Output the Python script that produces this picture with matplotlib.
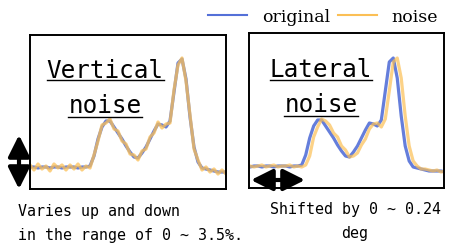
import matplotlib
matplotlib.use("Agg")
import matplotlib.pyplot as plt
from matplotlib.lines import Line2D
from matplotlib.patches import FancyArrowPatch
from matplotlib.transforms import IdentityTransform

# sample position along the profile
x = list(range(0, 208, 4))

# original profile
original = [22, 22, 21, 22, 22, 21, 22, 22, 21, 22, 22, 22, 21, 22, 22, 23, 33, 50, 62, 68,
            68, 62, 56, 50, 43, 37, 32, 31, 36, 42, 50, 58, 65, 64, 62, 68, 97, 126, 130, 110,
            72, 42, 27, 21, 20, 19, 18, 17, 17, 17, 17, 16]

# vertical noise (values jitter up and down)
noise_vert = [24, 19, 25, 20, 23, 18, 25, 21, 24, 19, 24, 20, 25, 19, 23, 21, 34, 48, 64, 66,
              70, 60, 58, 48, 45, 35, 34, 29, 38, 40, 52, 56, 67, 61, 65, 66, 99, 124, 131, 108,
              74, 40, 29, 19, 22, 17, 20, 15, 19, 15, 18, 14]

# lateral noise (profile shifted sideways)
noise_lat = [22, 23, 22, 21, 22, 23, 21, 22, 23, 21, 22, 22, 23, 21, 22, 21, 23, 32, 51, 61,
             69, 67, 63, 55, 51, 42, 38, 31, 32, 35, 43, 49, 59, 64, 65, 61, 69, 97, 126, 130,
             110, 72, 42, 27, 22, 19, 19, 18, 17, 18, 16, 17]

c_orig = "#5470d8"
c_noise = "#fbbf55"
mono = "DejaVu Sans Mono"

W, H = 453, 245
fig = plt.figure(figsize=(W / 100, H / 100), dpi=100)


def axes_px(x0, y0, x1, y1):
    return fig.add_axes([x0 / W, 1 - y1 / H, (x1 - x0) / W, (y1 - y0) / H])


ax1 = axes_px(30, 35, 226, 189)
ax2 = axes_px(249, 33, 444, 188)

ax1.plot(x, original, color=c_orig, lw=2.3, alpha=0.9)
ax1.plot(x, noise_vert, color=c_noise, lw=2.3, alpha=0.75)
ax1.set_xlim(0, 196)
ax1.set_ylim(0, 154)

ax2.plot(x, original, color=c_orig, lw=2.3, alpha=0.9)
ax2.plot(x, noise_lat, color=c_noise, lw=2.3, alpha=0.7)
ax2.set_xlim(7, 203)
ax2.set_ylim(0, 155)

for ax in (ax1, ax2):
    ax.set_xticks([])
    ax.set_yticks([])
    for s in ax.spines.values():
        s.set_linewidth(1.4)
        s.set_color("black")

# legend
handles = [Line2D([], [], color=c_orig, lw=1.5), Line2D([], [], color=c_noise, lw=1.5)]
fig.legend(handles, ["original", "noise"], loc="center left",
           bbox_to_anchor=(208 / W, 1 - 17 / H), ncol=2, frameon=False,
           borderpad=0, borderaxespad=0, handlelength=2.25, handletextpad=0.85,
           columnspacing=0.45, prop={"family": "DejaVu Serif", "size": 12.5})

# panel titles with underline
titles = [("Vertical", 105, 78, 80), ("noise", 105, 113, 117),
          ("Lateral", 321, 77, 80), ("noise", 321, 112, 116)]
title_objs = []
for s, cx, base, uy in titles:
    t = fig.text(cx / W, 1 - base / H, s, ha="center", va="baseline",
                 family=mono, fontsize=17.5)
    title_objs.append((t, uy))

fig.canvas.draw()
r = fig.canvas.get_renderer()
for t, uy in title_objs:
    bb = t.get_window_extent(r)
    fig.add_artist(Line2D([bb.x0, bb.x1], [H - uy, H - uy], color="black", lw=1.0,
                          transform=IdentityTransform()))

# captions (baseline of last line)
fig.text(18 / W, 1 - 240 / H, "Varies up and down\nin the range of 0 ~ 3.5%.",
         ha="left", va="baseline", family=mono, fontsize=10.8, linespacing=1.75)
fig.text(355 / W, 1 - 238 / H, "Shifted by 0 ~ 0.24\ndeg",
         ha="center", va="baseline", family=mono, fontsize=10.8, linespacing=1.75)

# double arrows
arrow_kw = dict(arrowstyle="<|-|>,head_length=13,head_width=6.5", mutation_scale=1,
                lw=3, color="black", shrinkA=0, shrinkB=0, transform=fig.transFigure)
fig.add_artist(FancyArrowPatch((19 / W, 1 - 135 / H), (19 / W, 1 - 189 / H), **arrow_kw))
fig.add_artist(FancyArrowPatch((251 / W, 1 - 180 / H), (305 / W, 1 - 180 / H), **arrow_kw))

fig.savefig("out.png", dpi=100)
